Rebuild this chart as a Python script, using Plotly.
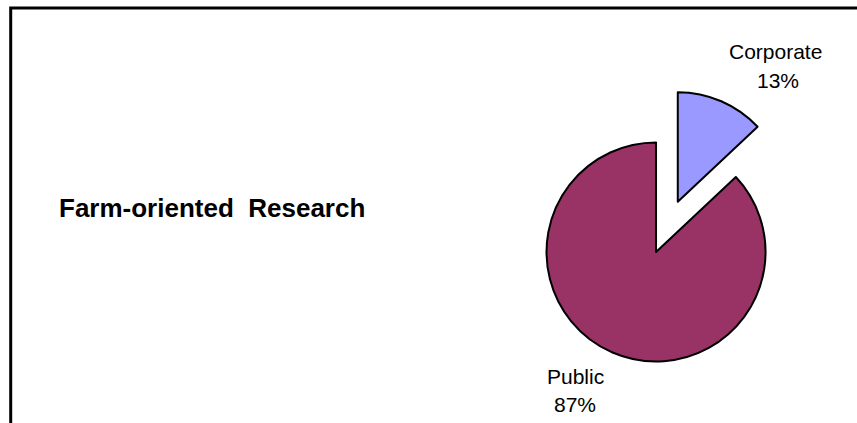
import plotly.graph_objects as go

labels = ["Corporate", "Public"]
values = [13, 87]
pct_text = ["13%", "87%"]
colors = ["#9999FF", "#993366"]
pulls = [0.5, 0]
title_text = "Farm-oriented  Research"

W, H = 857, 423

fig = go.Figure()
fig.add_trace(go.Pie(
    labels=labels,
    values=values,
    sort=False,
    direction="clockwise",
    rotation=0,
    pull=pulls,
    marker=dict(colors=colors, line=dict(color="black", width=2)),
    textinfo="none",
    hoverinfo="label+percent",
    showlegend=False,
    domain=dict(x=[0.5738, 0.9572], y=[0.01596, 0.7926]),
))

font_lbl = dict(family="Liberation Sans, Arial, sans-serif", size=21, color="black")
# label positions (pixels) for each slice: name line and percent line
lbl_pos = {"Corporate": (775, 52, 778, 80), "Public": (575, 376, 575, 404)}
anns = []
for lab, pt in zip(labels, pct_text):
    x1, y1, x2, y2 = lbl_pos[lab]
    anns.append(dict(x=x1 / W, y=1 - y1 / H, xref="paper", yref="paper", text=lab,
                     showarrow=False, xanchor="center", yanchor="middle", font=font_lbl))
    anns.append(dict(x=x2 / W, y=1 - y2 / H, xref="paper", yref="paper", text=pt,
                     showarrow=False, xanchor="center", yanchor="middle", font=font_lbl))

anns.append(dict(x=57 / W, y=1 - 208 / H, xref="paper", yref="paper",
                 text="<b>" + title_text.replace("  ", "&nbsp;&nbsp;") + "</b>",
                 showarrow=False, xanchor="left", yanchor="middle",
                 font=dict(family="Liberation Sans, Arial, sans-serif", size=26, color="black")))

fig.update_layout(
    width=W, height=H,
    margin=dict(l=0, r=0, t=0, b=0),
    paper_bgcolor="white",
    plot_bgcolor="white",
    annotations=anns,
    shapes=[dict(type="rect", xref="paper", yref="paper",
                 x0=10.7 / W, x1=1.05, y0=-0.05, y1=1 - 8 / H,
                 line=dict(color="black", width=3), layer="below")],
)

fig.write_html("out.html")
